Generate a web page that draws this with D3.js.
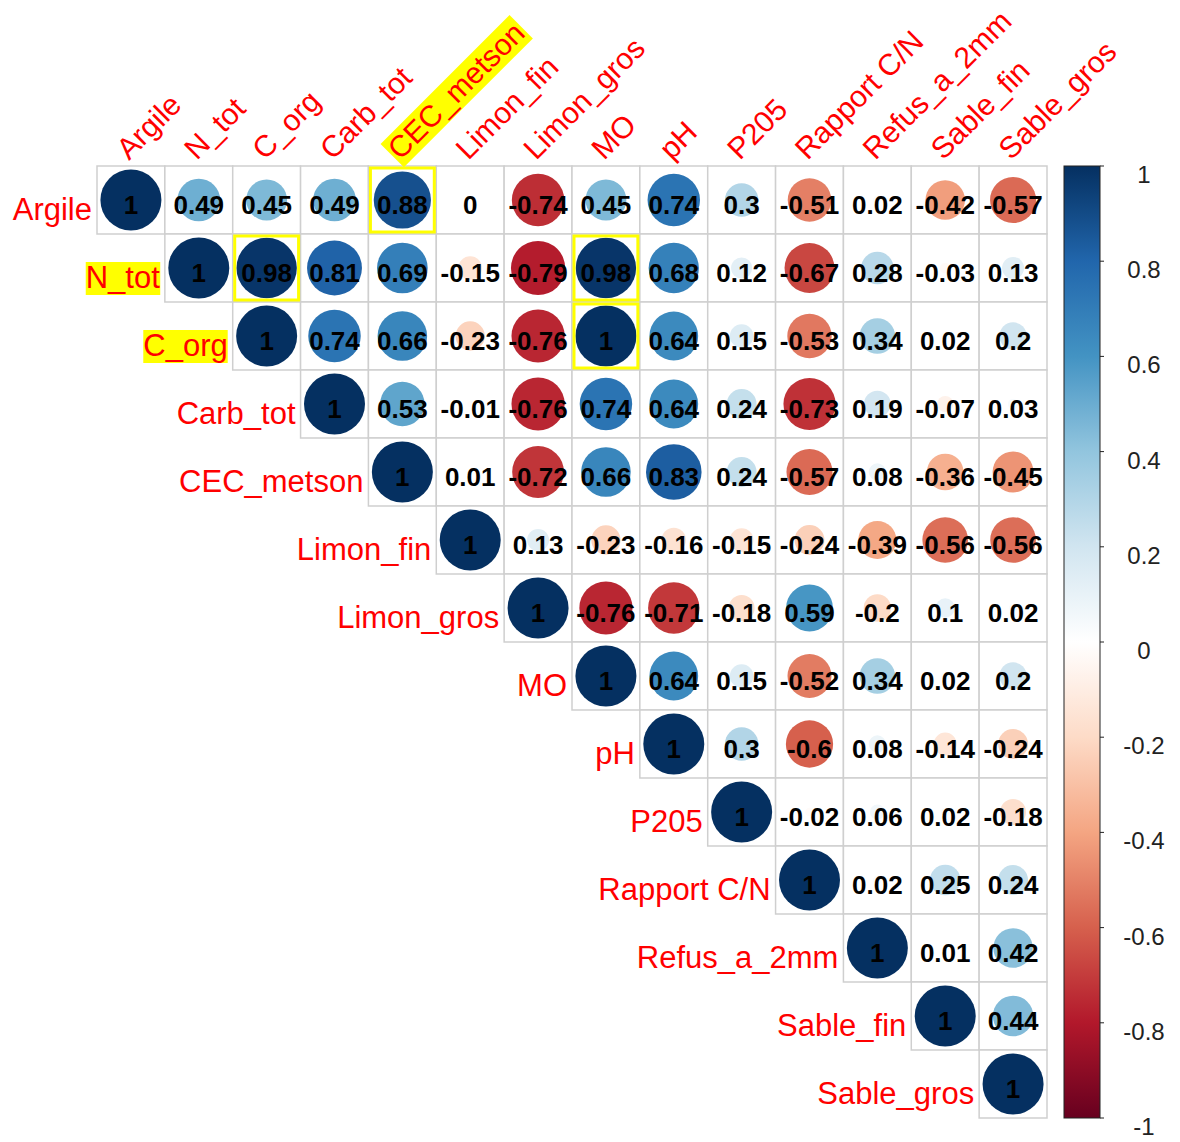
<!DOCTYPE html>
<html><head><meta charset="utf-8">
<script src="https://cdn.jsdelivr.net/npm/d3@7"></script>
<style>body{margin:0;background:#fff}svg{display:block}</style>
</head><body><svg id="c" width="1180" height="1142"></svg>
<script>
const variables = ["Argile","N_tot","C_org","Carb_tot","CEC_metson","Limon_fin","Limon_gros","MO","pH","P205","Rapport C/N","Refus_a_2mm","Sable_fin","Sable_gros"];
// upper-triangle rows (starting at the diagonal)
const row_Argile     = [1, 0.49, 0.45, 0.49, 0.88, 0, -0.74, 0.45, 0.74, 0.3, -0.51, 0.02, -0.42, -0.57];
const row_N_tot      = [1, 0.98, 0.81, 0.69, -0.15, -0.79, 0.98, 0.68, 0.12, -0.67, 0.28, -0.03, 0.13];
const row_C_org      = [1, 0.74, 0.66, -0.23, -0.76, 1, 0.64, 0.15, -0.53, 0.34, 0.02, 0.2];
const row_Carb_tot   = [1, 0.53, -0.01, -0.76, 0.74, 0.64, 0.24, -0.73, 0.19, -0.07, 0.03];
const row_CEC_metson = [1, 0.01, -0.72, 0.66, 0.83, 0.24, -0.57, 0.08, -0.36, -0.45];
const row_Limon_fin  = [1, 0.13, -0.23, -0.16, -0.15, -0.24, -0.39, -0.56, -0.56];
const row_Limon_gros = [1, -0.76, -0.71, -0.18, 0.59, -0.2, 0.1, 0.02];
const row_MO         = [1, 0.64, 0.15, -0.52, 0.34, 0.02, 0.2];
const row_pH         = [1, 0.3, -0.6, 0.08, -0.14, -0.24];
const row_P205       = [1, -0.02, 0.06, 0.02, -0.18];
const row_RapportCN  = [1, 0.02, 0.25, 0.24];
const row_Refus      = [1, 0.01, 0.42];
const row_Sable_fin  = [1, 0.44];
const row_Sable_gros = [1];
const rows = [row_Argile,row_N_tot,row_C_org,row_Carb_tot,row_CEC_metson,row_Limon_fin,row_Limon_gros,row_MO,row_pH,row_P205,row_RapportCN,row_Refus,row_Sable_fin,row_Sable_gros];

const legendTicks = [1,0.8,0.6,0.4,0.2,0,-0.2,-0.4,-0.6,-0.8,-1];
const palette = ["#67001F","#B2182B","#D6604D","#F4A582","#FDDBC7","#FFFFFF","#D1E5F0","#92C5DE","#4393C3","#2166AC","#053061"];
const highlightCells = [["Argile","CEC_metson"],["N_tot","C_org"],["N_tot","MO"],["C_org","MO"]];
const highlightRowLabels = ["N_tot","C_org"];
const highlightColLabels = ["CEC_metson"];

const svg = d3.select("#c");
const FONT = "Liberation Sans, Arial, sans-serif";
const x = d3.scaleBand().domain(variables).range([97,1047]);
const y = d3.scaleBand().domain(variables).range([166,1118]);
const bw = x.bandwidth(), bh = y.bandwidth();
const color = d3.scaleLinear().domain(d3.range(11).map(i => -1 + i*0.2)).range(palette).interpolate(d3.interpolateRgb);
const rScale = d3.scaleSqrt().domain([0,1]).range([0,30.5]);

const cells = [];
rows.forEach((r,i) => r.forEach((v,k) => cells.push({row: variables[i], col: variables[i+k], v})));

// cell grid
svg.append("g").selectAll("rect").data(cells).join("rect")
  .attr("x", d => x(d.col)).attr("y", d => y(d.row))
  .attr("width", bw).attr("height", bh)
  .attr("fill","#fff").attr("stroke","#cfcfcf").attr("stroke-width",1.5);

// circles
svg.append("g").selectAll("circle").data(cells).join("circle")
  .attr("cx", d => x(d.col)+bw/2).attr("cy", d => y(d.row)+bh/2)
  .attr("r", d => rScale(Math.abs(d.v)))
  .attr("fill", d => color(d.v));

// highlight cells
svg.append("g").selectAll("rect").data(highlightCells).join("rect")
  .attr("x", d => x(d[1])+2).attr("y", d => y(d[0])+2)
  .attr("width", bw-4).attr("height", bh-4)
  .attr("fill","none").attr("stroke","#ffff00").attr("stroke-width",3);

// numbers
svg.append("g").selectAll("text").data(cells).join("text")
  .attr("x", d => x(d.col)+bw/2).attr("y", d => y(d.row)+bh/2+14)
  .attr("text-anchor","middle")
  .attr("font-family",FONT).attr("font-weight","bold").attr("font-size",26)
  .attr("fill","#000")
  .text(d => String(d.v));

// row labels
const rl = svg.append("g").selectAll("g").data(variables).join("g");
rl.append("text")
  .attr("x", d => x(d)-5).attr("y", d => y(d)+bh/2+20)
  .attr("text-anchor","end").attr("font-family",FONT).attr("font-size",31)
  .attr("fill","#ff0000").text(d => d);
rl.filter(d => highlightRowLabels.includes(d)).each(function(){
  const t = d3.select(this).select("text");
  const b = t.node().getBBox();
  d3.select(this).insert("rect","text").attr("x",b.x).attr("y",b.y+2).attr("width",b.width).attr("height",b.height-2).attr("fill","#ffff00");
});

// column labels
const cl = svg.append("g").selectAll("g").data(variables).join("g")
  .attr("transform", d => `translate(${x(d)+bw/2-2},${161}) rotate(-45)`);
cl.append("text").attr("x",0).attr("y",0)
  .attr("font-family",FONT).attr("font-size",30).attr("fill","#ff0000").text(d => d);
cl.filter(d => highlightColLabels.includes(d)).each(function(){
  const t = d3.select(this).select("text");
  const b = t.node().getBBox();
  d3.select(this).insert("rect","text").attr("x",b.x-2).attr("y",b.y+1).attr("width",b.width+4).attr("height",b.height).attr("fill","#ffff00");
});

// colour legend
const ly = d3.scaleLinear().domain([-1,1]).range([1118,166]);
const defs = svg.append("defs");
const grad = defs.append("linearGradient").attr("id","lg").attr("x1",0).attr("x2",0).attr("y1",1).attr("y2",0);
palette.forEach((c,i) => grad.append("stop").attr("offset", i/10).attr("stop-color", c));
svg.append("rect").attr("x",1064).attr("y",ly(1)).attr("width",36).attr("height",ly(-1)-ly(1))
  .attr("fill","url(#lg)").attr("stroke","#222").attr("stroke-width",1);
const lg = svg.append("g");
lg.selectAll("line").data(legendTicks).join("line")
  .attr("x1",1100).attr("x2",1104).attr("y1",d=>ly(d)).attr("y2",d=>ly(d))
  .attr("stroke","#222").attr("stroke-width",1);
lg.selectAll("text").data(legendTicks).join("text")
  .attr("x",1144).attr("y",d=>ly(d)+17).attr("text-anchor","middle")
  .attr("font-family",FONT).attr("font-size",24).attr("fill","#222")
  .text(d => String(d));
</script></body></html>
